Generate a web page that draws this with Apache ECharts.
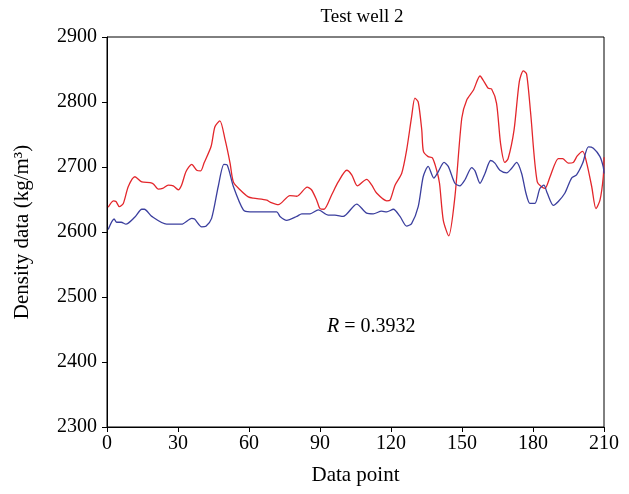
<!DOCTYPE html>
<html><head><meta charset="utf-8">
<script src="https://cdn.jsdelivr.net/npm/echarts@6/dist/echarts.min.js"></script>
<style>html,body{margin:0;padding:0;background:#fff}#c{width:629px;height:494px}</style>
</head><body><div id="c"></div>
<script>
const xTicks = [0, 30, 60, 90, 120, 150, 180, 210];
const yTicks = [2300, 2400, 2500, 2600, 2700, 2800, 2900];
const blueX = [0.5,3,4.1,6,8,11.8,14.7,15.8,18.9,25.2,31.5,35.8,37,40,41.8,44.2,47,49.4,50.8,53.4,57.6,60.4,71.7,73.1,75.9,80.2,82.3,85.8,89.3,93.5,96.3,99.8,105.5,109.7,112.5,116,118.2,121,123.8,126.6,128.7,131.5,133.6,135.7,138.1,140,142.4,144.2,147,149.1,151.2,154.1,155.5,157.6,159.7,162.1,163.9,166,168.9,171,173.1,175.2,177,178.7,180.8,182.9,184.6,186,188.6,190.7,193.5,196.3,198.4,201,203.4,205.5,208.3,209.7,210];
const blueY = [2604,2620,2615,2615,2612,2623,2635,2635,2624,2612,2612,2621,2620,2608,2609,2621,2670,2704,2703,2670,2634,2631,2631,2624,2618,2624,2628,2628,2634,2626,2626,2624,2643,2629,2628,2632,2631,2635,2624,2609,2613,2639,2685,2701,2683,2693,2707,2701,2675,2671,2680,2699,2694,2675,2690,2710,2706,2695,2691,2698,2707,2690,2660,2644,2644,2667,2672,2660,2641,2647,2660,2683,2688,2706,2731,2729,2716,2700,2690];
const redX = [0.5,2.7,3.8,5.2,6.9,9,11.8,14.7,18.2,19.6,21.7,23.5,25.9,28,30.1,31.5,33.4,35.8,37.9,39.6,41,44,45.6,47.7,49.9,52,53.4,56.2,59.7,61.8,67.5,68.9,72.4,77.3,80.2,84.6,86.4,88.6,90,91.7,94.9,97.7,101.3,103.4,105.8,109.7,111.9,113.9,118.2,119.6,121.7,124.5,126.6,128.7,130.1,131.5,133,133.7,135.7,137.5,139.3,140.5,142.1,144.4,147,149.9,152,154.8,157.6,159.7,161.1,162.5,164.6,166.3,168.1,169.5,172,174.2,175.9,177.3,179,181.8,185,187.2,190.7,192.5,194.9,197,198.7,201,202.7,204.8,206.6,208.3,209.7,210];
const redY = [2638,2648,2647,2639,2644,2670,2685,2677,2676,2674,2666,2667,2672,2671,2665,2672,2693,2704,2695,2694,2706,2732,2762,2771,2742,2706,2677,2665,2654,2652,2649,2646,2642,2656,2655,2669,2665,2649,2636,2635,2657,2677,2695,2688,2671,2681,2672,2660,2648,2649,2672,2690,2726,2777,2806,2800,2757,2724,2716,2714,2695,2675,2618,2594,2654,2775,2803,2818,2840,2829,2821,2820,2798,2736,2707,2713,2757,2831,2848,2843,2783,2677,2667,2685,2713,2713,2706,2707,2717,2724,2706,2670,2636,2649,2685,2715];

const zip = (xs, ys) => xs.map((x, i) => [x, ys[i]]);
const font = '"Liberation Serif", "DejaVu Serif", serif';
const chart = echarts.init(document.getElementById('c'), null, {renderer: 'canvas'});
chart.setOption({
  animation: false,
  backgroundColor: '#fff',
  title: {
    text: 'Test well 2', left: 357, top: 3, textAlign: 'center',
    textStyle: {fontFamily: font, fontSize: 19, fontWeight: 'normal', color: '#000'}
  },
  grid: {left: 107, right: 25, top: 37, bottom: 67, show: true, borderColor: '#000', borderWidth: 1,
         containLabel: false, outerBoundsMode: 'none'},
  xAxis: {
    type: 'value', min: xTicks[0], max: xTicks[xTicks.length - 1], interval: 30,
    name: 'Data point', nameLocation: 'middle', nameGap: 38,
    nameTextStyle: {fontFamily: font, fontSize: 21, color: '#000'},
    axisLine: {lineStyle: {color: '#000', width: 1}},
    axisTick: {show: true, length: 5, lineStyle: {color: '#000'}},
    axisLabel: {fontFamily: font, fontSize: 20, color: '#000', margin: 7, formatter: v => String(v)},
    splitLine: {show: false}
  },
  yAxis: {
    type: 'value', min: yTicks[0], max: yTicks[yTicks.length - 1], interval: 100,
    name: 'Density data (kg/m³)', nameLocation: 'middle', nameGap: 74, nameRotate: 90,
    nameTextStyle: {fontFamily: font, fontSize: 21, color: '#000'},
    axisLine: {show: true, lineStyle: {color: '#000', width: 1}},
    axisTick: {show: true, length: 5, lineStyle: {color: '#000'}},
    axisLabel: {fontFamily: font, fontSize: 20, color: '#000', margin: 10, formatter: v => String(v)},
    splitLine: {show: false}
  },
  graphic: [{
    type: 'text', left: 327, top: 317,
    style: {
      text: '{i|R} = 0.3932',
      rich: {i: {fontFamily: font, fontSize: 20, fontStyle: 'italic', fill: '#000'}},
      fontFamily: font, fontSize: 20, fill: '#000'
    }
  }],
  series: [
    {type: 'line', data: zip(redX, redY), smooth: 0.25, showSymbol: false, clip: true,
     lineStyle: {color: '#e3262b', width: 1.3}},
    {type: 'line', data: zip(blueX, blueY), smooth: 0.25, showSymbol: false, clip: true,
     lineStyle: {color: '#3b3f9e', width: 1.3}}
  ]
});
</script></body></html>
